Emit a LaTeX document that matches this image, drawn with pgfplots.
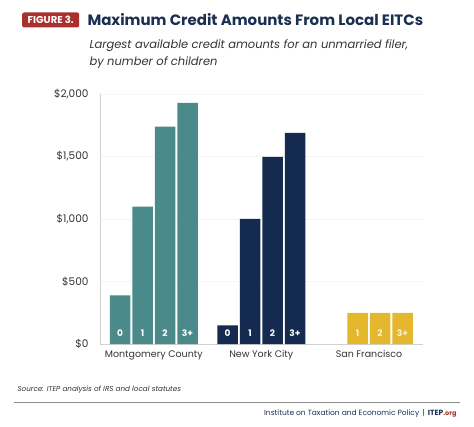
\documentclass[border=0pt]{standalone}
\usepackage{pgfplots}
\pgfplotsset{compat=1.18}
\usepackage{fontspec}
\setmainfont{Poppins}

\definecolor{mcteal}{HTML}{4A8A8B}
\definecolor{nycnavy}{HTML}{142B4F}
\definecolor{sfgold}{HTML}{E4B72C}
\definecolor{titlenavy}{HTML}{1B2F52}
\definecolor{figred}{HTML}{A8312E}
\definecolor{subgray}{HTML}{333333}

\begin{document}
\begin{tikzpicture}
\path[use as bounding box] (0pt,0pt) rectangle (474pt,426pt);

% header
\node[fill=figred, text=white, rounded corners=2pt, inner xsep=2.5pt, inner ysep=2.5pt,
      minimum height=15pt, minimum width=57pt, anchor=west,
      font=\fontsize{10}{11}\selectfont\bfseries] at (22pt,406pt) {FIGURE 3.};
\node[anchor=west, text=titlenavy, font=\fontsize{15}{17}\selectfont\bfseries]
  at (84pt,406pt) {Maximum Credit Amounts From Local EITCs};
\node[anchor=north west, text=subgray, align=left,
      font=\fontsize{11.5}{17}\selectfont\itshape] at (86pt,390pt)
  {Largest available credit amounts for an unmarried filer,\\by number of children};

\begin{axis}[
  at={(100pt,332pt)}, anchor=north west,
  scale only axis, width=323pt, height=250pt,
  xmin=100, xmax=423, ymin=0, ymax=2000,
  axis line style={draw=none},
  ytick={0,500,1000,1500,2000},
  yticklabels={{\$0},{\$500},{\$1,000},{\$1,500},{\$2,000}},
  xtick={153.75,261.25,369},
  xticklabels={Montgomery County,New York City,San Francisco},
  major tick length=0pt,
  ymajorgrids,
  grid style={draw=black!4},
  tick label style={text=black!80},
  yticklabel style={font=\fontsize{10.5}{12}\selectfont, xshift=-8pt},
  xticklabel style={font=\fontsize{9.5}{11}\selectfont, yshift=-3pt},
  clip=false,
]
\draw[black!18] (rel axis cs:0,1) -- (rel axis cs:0,0) -- (rel axis cs:1,0);

\addplot[ybar, bar shift=0pt, bar width=20.5, fill=mcteal, draw=none]
  coordinates {(120,389) (142.5,1098) (165,1738) (187.5,1928)};
\addplot[ybar, bar shift=0pt, bar width=20.5, fill=nycnavy, draw=none]
  coordinates {(227.5,149) (250,1000) (272.5,1496) (295,1688)};
\addplot[ybar, bar shift=0pt, bar width=20.5, fill=sfgold, draw=none]
  coordinates {(357.5,250) (380,250) (402.5,250)};

\begin{scope}[every node/.style={font=\fontsize{9}{10}\selectfont\bfseries, text=white}]
\node at (axis cs:120,88) {0};
\node at (axis cs:142.5,88) {1};
\node at (axis cs:165,88) {2};
\node at (axis cs:187.5,88) {3+};
\node at (axis cs:227.5,88) {0};
\node at (axis cs:250,88) {1};
\node at (axis cs:272.5,88) {2};
\node at (axis cs:295,88) {3+};
\node[text=white!80!sfgold] at (axis cs:357.5,88) {1};
\node[text=white!80!sfgold] at (axis cs:380,88) {2};
\node[text=white!80!sfgold] at (axis cs:402.5,88) {3+};
\end{scope}
\end{axis}

% footer
\node[anchor=west, text=subgray, font=\fontsize{7.2}{8}\selectfont\itshape]
  at (14pt,36pt) {Source: ITEP analysis of IRS and local statutes};
\draw[black!45, line width=0.6pt] (14pt,24pt) -- (460pt,24pt);
\node[anchor=east, font=\fontsize{7.5}{8}\selectfont, text=titlenavy] at (460pt,13pt)
  {Institute on Taxation and Economic Policy \,|\, \textbf{ITEP}\textcolor{figred}{\fontsize{6.5}{7}\selectfont\bfseries.org}};
\end{tikzpicture}
\end{document}
